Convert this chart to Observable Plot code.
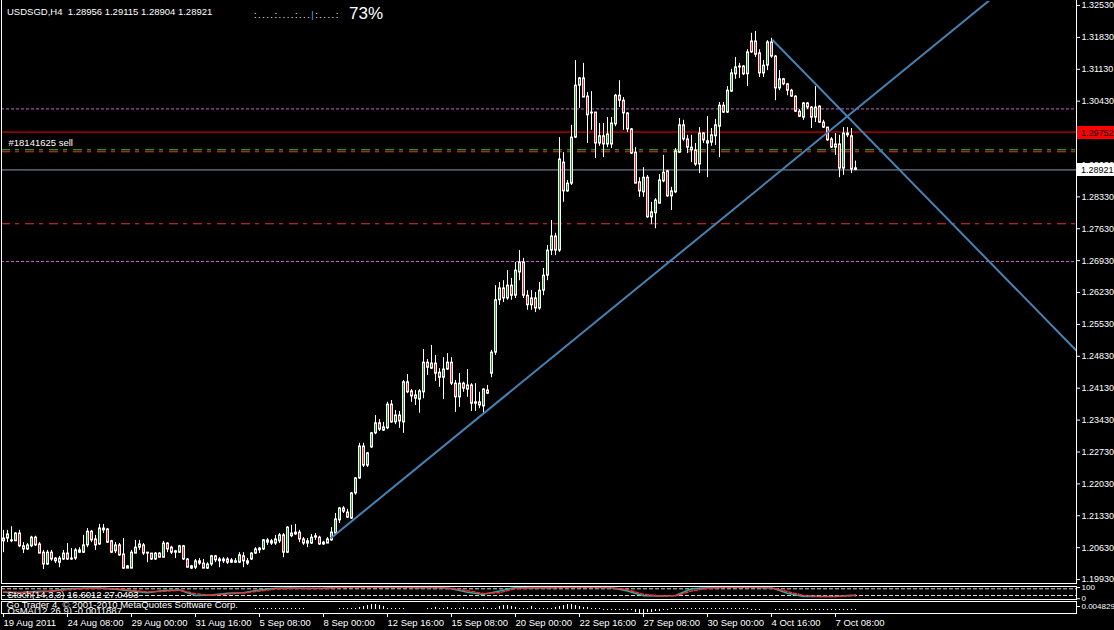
<!DOCTYPE html>
<html><head><meta charset="utf-8">
<script src="https://cdn.jsdelivr.net/npm/d3@7"></script>
<script src="https://cdn.jsdelivr.net/npm/@observablehq/plot@0.6"></script>
<style>
html,body{margin:0;padding:0;background:#000;}
#chart{width:1114px;height:630px;overflow:hidden;background:#000;}
#chart svg{display:block;}
</style></head><body><div id="chart"></div>
<script>
// ---------------- DATA ----------------
const headerText = "USDSGD,H4\u00a0\u00a01.28956 1.29115 1.28904 1.28921";
const sessionDotsLeft = ":....:....:...";
const sessionDotsRight = ":....:";
const progressLabel = "73%";
const orderTicket = "#18141625 sell";
const stochLabel = "Stoch(14,3,3) 16.6012 27.0493";
const copyrightText = "Go Trader 4, \u00a9 2001-2010 MetaQuotes Software Corp.";
const osmaLabel = "OsMA(12,26,9) -0.0011887";

// H4 candles, prices in pips (1e-4)
const openPips = [
12077,12083,12079,12077,12094,12066,12059,12066,12085,12070,
12052,12026,12052,12039,12030,12037,12050,12039,12039,12057,
12052,12068,12098,12081,12070,12105,12103,12077,12055,12068,
12048,12022,12017,12050,12063,12068,12052,12050,12037,12050,
12041,12072,12063,12055,12052,12066,12037,12022,12019,12033,
12028,12017,12026,12044,12033,12037,12037,12030,12030,12030,
12044,12033,12037,12050,12057,12059,12074,12077,12072,12077,
12090,12052,12088,12092,12096,12081,12072,12072,12085,12085,
12074,12072,12079,12094,12123,12149,12140,12127,12182,12215,
12285,12243,12283,12314,12336,12320,12325,12377,12338,12353,
12338,12426,12406,12397,12388,12404,12469,12456,12467,12447,
12436,12454,12469,12423,12393,12423,12419,12419,12382,12382,
12373,12408,12445,12491,12606,12632,12610,12638,12616,12667,
12689,12616,12595,12610,12588,12627,12660,12715,12746,12715,
12908,12845,12862,12963,13077,13093,13053,13018,13018,12950,
12966,12948,12948,12992,13055,13044,13016,12981,12930,12865,
12843,12875,12788,12797,12818,12867,12889,12834,12843,12930,
12990,12959,12941,12935,12904,12972,12955,12952,12966,12987,
13033,13018,13064,13102,13119,13119,13102,13174,13174,13148,
13104,13121,13172,13141,13071,13091,13080,13066,13053,13020,
13007,13038,13029,13007,13031,12996,12985,12959,12941,12948,
12895,12972,12966,12895.6];
const highPips = [
12101,12101,12109,12096,12101,12074,12072,12088,12088,12074,
12057,12057,12057,12041,12044,12057,12072,12061,12061,12063,
12090,12105,12101,12090,12114,12114,12105,12079,12074,12072,
12083,12024,12057,12079,12079,12072,12052,12050,12052,12052,
12077,12074,12066,12057,12068,12068,12039,12024,12037,12039,
12037,12030,12046,12046,12041,12041,12041,12039,12039,12052,
12052,12039,12052,12063,12063,12081,12083,12081,12090,12094,
12094,12109,12112,12114,12101,12085,12083,12092,12094,12088,
12077,12085,12107,12138,12151,12153,12147,12184,12217,12292,
12292,12272,12316,12353,12344,12338,12382,12386,12364,12362,
12430,12443,12410,12408,12410,12498,12476,12507,12485,12456,
12480,12489,12480,12430,12445,12426,12454,12423,12423,12404,
12412,12419,12496,12638,12645,12649,12671,12654,12689,12715,
12698,12627,12627,12623,12645,12676,12726,12781,12753,12963,
12930,12869,12990,13132,13095,13126,13062,13064,13018,12994,
12994,13007,13007,13058,13088,13051,13018,12983,12941,12875,
12897,12880,12821,12829,12882,12924,12891,12854,12939,13005,
13001,12968,12968,12950,12985,12974,13009,12983,13003,13040,
13040,13075,13113,13139,13126,13121,13156,13192,13196,13156,
13132,13176,13181,13143,13110,13093,13082,13069,13055,13025,
13040,13040,13031,13075,13033,13001,12985,12963,12972,12968,
12985,12985,12983,12911.5];
const lowPips = [
12052,12074,12074,12077,12063,12050,12057,12063,12066,12050,
12015,12024,12033,12028,12019,12035,12035,12035,12035,12050,
12050,12063,12074,12057,12068,12094,12072,12050,12050,12044,
12015,12017,12017,12050,12057,12046,12030,12035,12035,12041,
12041,12052,12048,12039,12050,12035,12019,12015,12015,12024,
12017,12015,12022,12030,12019,12028,12026,12028,12028,12028,
12019,12024,12035,12048,12050,12057,12068,12068,12068,12072,
12041,12050,12085,12090,12074,12068,12063,12070,12079,12068,
12068,12072,12077,12092,12116,12138,12127,12125,12178,12213,
12239,12239,12281,12311,12318,12318,12322,12336,12333,12325,
12314,12401,12382,12375,12358,12390,12441,12454,12428,12415,
12388,12452,12419,12360,12371,12404,12393,12362,12362,12368,
12358,12399,12436,12485,12595,12601,12606,12606,12610,12649,
12610,12584,12584,12579,12584,12616,12649,12704,12704,12711,
12821,12843,12858,12961,13027,13051,12950,12979,12917,12944,
12919,12941,12939,12987,13029,12979,12974,12926,12862,12832,
12832,12786,12772,12763,12818,12864,12832,12803,12840,12928,
12955,12928,12908,12900,12884,12950,12875,12944,12946,12919,
13016,13016,13062,13091,13093,13099,13075,13148,13139,13095,
13095,13110,13137,13044,13066,13077,13055,13051,13018,13007,
13001,13025,12983,12996,12994,12983,12955,12939,12924,12875,
12880,12963,12884,12890.4];
const closePips = [
12083,12092,12077,12094,12066,12059,12068,12085,12068,12050,
12026,12052,12037,12033,12039,12050,12037,12037,12057,12052,
12068,12098,12079,12068,12105,12101,12074,12052,12068,12046,
12017,12017,12052,12063,12070,12050,12050,12037,12050,12041,
12072,12059,12052,12052,12066,12037,12019,12017,12033,12028,
12017,12026,12044,12035,12037,12033,12030,12035,12033,12046,
12033,12028,12050,12059,12061,12079,12079,12072,12081,12090,
12052,12107,12094,12096,12081,12072,12077,12085,12088,12070,
12070,12081,12096,12125,12149,12142,12129,12182,12215,12285,
12243,12270,12314,12336,12322,12327,12377,12338,12353,12340,
12426,12404,12395,12390,12406,12469,12458,12467,12445,12436,
12454,12469,12423,12393,12423,12412,12410,12379,12379,12375,
12410,12401,12491,12606,12632,12610,12638,12616,12671,12689,
12616,12595,12610,12588,12627,12660,12715,12746,12715,12915,
12845,12862,12963,13077,13093,13051,13012,13016,12950,12966,
12948,12970,12994,13055,13044,13016,12981,12928,12862,12845,
12875,12788,12799,12825,12869,12886,12834,12845,12933,12990,
12959,12941,12935,12904,12972,12957,12950,12968,12990,13033,
13018,13066,13104,13117,13117,13102,13150,13150,13145,13104,
13121,13172,13141,13071,13091,13080,13066,13053,13020,13009,
13038,13029,13007,13029,12996,12985,12957,12941,12948,12895,
12972,12968,12893,12892.1];

// time axis (bar index of each label)
const timeTickIdx = [0,16,32,48,64,80,96,112,128,144,160,176,192,208];
const timeLabels = ["19 Aug 2011","24 Aug 08:00","29 Aug 00:00","31 Aug 16:00","5 Sep 08:00","8 Sep 00:00","12 Sep 16:00","15 Sep 08:00","20 Sep 00:00","22 Sep 16:00","27 Sep 08:00","30 Sep 00:00","4 Oct 16:00","7 Oct 08:00"];
// price axis (1.2973 lies hidden under the red tag)
const priceTicks = [1.1993,1.2063,1.2133,1.2203,1.2273,1.2343,1.2413,1.2483,1.2553,1.2623,1.2693,1.2763,1.2833,1.2903,1.3043,1.3113,1.3183,1.3253];
// horizontal levels
const levelPrices = [1.3026, 1.29752, 1.29363, 1.29319, 1.28921, 1.27739, 1.2691];
const tagPrices = [1.29752, 1.28921];
// trend lines (bar index, price)
const trendStartIdx = [81.75, 192.2];
const trendStartPrice = [1.20831, 1.31778];
const trendEndIdx = [250, 268.25];
const trendEndPrice = [1.32896, 1.24951];
// stochastic
const stochIdx = [0,4,8,12,16,20,24,28,32,36,40,44,48,52,56,60,64,68,72,76,80,84,88,92,96,100,104,108,112,116,120,124,128,132,136,140,144,148,152,156,160,164,168,172,176,180,184,188,192,196,200,204,208,212,213];
const stochMain = [50,45,55,60,80,85,88,75,60,45,65,70,20,25,40,45,70,85,88,82,85,95,96,95,92,95,90,93,80,50,30,60,92,88,90,93,95,92,90,60,18,15,20,80,90,93,95,92,88,40,12,10,12,22,16.6];
const stochSignal = [52,48,50,57,72,82,86,80,66,52,57,68,35,22,33,43,60,78,86,84,84,92,95,95,93,94,91,92,85,62,38,45,82,89,89,92,94,93,90,72,30,16,17,60,85,91,94,93,90,55,20,11,11,18,27.05];
const stochLevels = [80, 20];
const stochAxisTicks = [100, 0];
// OsMA histogram (1e-4 units) from bar osmaStart
const osmaStart = 63;
const osmaValues = [
1,1,1,1,1,1,1,1,1,1,1,1,1,
0,0,0,0,0,0,0,0,
1,1,1,1,1,
2,3,4,5,5,4,3,
1,1,1,1,1,
0,0,0,0,0,
1,1,2,1,1,2,1,1,1,2,1,1,1,1,2,1,1,1,
3,4,4,3,2,
1,1,1,3,1,1,1,1,1,2,
3,4,5,5,4,3,2,2,
1,1,1,
-1,-1,-1,-1,-1,-1,-1,-1,
-3,-4,-4,-3,-3,-2,-2,
-1,-1,1,1,1,1,1,1,1,1,1,1,1,1,1,1,1,1,1,1,1,1,-1,-1,-1,
0,0,0,
-1,-1,-1,-1,-1,-1,-1,-1,-1,-1,-1,-1,-1,-1,-1,-1,-1,-1,-1,-1,-1];
const osmaAxisTicks = [3];
const osmaAxisLabels = ["0.004829"];

// ---------------- STYLE ----------------
const W = 1114, ML = 1, MR = 38;
const X_DOMAIN = [-0.5, 268.25];
const baseStyle = "background:#000;color:#fff;font-family:'Liberation Sans',Arial,sans-serif;font-size:9.5px;";
const paneStyle = "background:transparent;overflow:visible;color:#fff;font-family:'Liberation Sans',Arial,sans-serif;font-size:9.5px;";
const axisFont = 9;
const upFill = "#22a022", downFill = "#ff1e1e";
const levelStyles = [
  {stroke: "#c864c8", dash: "3,2"},
  {stroke: "#ff0000", dash: null},
  {stroke: "#32cd32", dash: "9,5,4,6"},
  {stroke: "#ff2a2a", dash: "9,5,4,6"},
  {stroke: "#8a9bb0", dash: null},
  {stroke: "#ff2a2a", dash: "9,5,4,6"},
  {stroke: "#c864c8", dash: "3,2"}
];
const tagFills = ["#ff0000", "#ffffff"];
const trendColor = "#4682b4";

// ---------------- BUILD ----------------
const fmt5 = d3.format(".5f");
const candles = openPips.map((o, i) => {
  const open = o / 1e4, close = closePips[i] / 1e4;
  const high = Math.max(highPips[i] / 1e4, open, close);
  const low = Math.min(lowPips[i] / 1e4, open, close);
  return {i, open, close, high, low, top: Math.max(open, close), bot: Math.min(open, close), up: close >= open};
});
const filled = candles.filter(d => d.top - d.bot > 0.0005);
const trendLines = trendStartIdx.map((s, k) => ({i1: s, p1: trendStartPrice[k], i2: trendEndIdx[k], p2: trendEndPrice[k]}));
const stochRows = stochIdx.map((i, k) => ({i, main: stochMain[k], signal: stochSignal[k]}));
const osmaRows = osmaValues.map((v, k) => ({i: osmaStart + k, v})).filter(d => d.v !== 0);

function paneBorder(sides) {
  return (index, scales, values, dim) => {
    const l = dim.marginLeft + 0.5, r = dim.width - dim.marginRight + 0.5;
    const t = dim.marginTop + 0.5, b = dim.height - dim.marginBottom + 0.5;
    const top0 = sides.includes("top") ? t - 0.5 : 0;
    const seg = {left: [l, top0, l, b + 0.5], right: [r, top0, r, b + 0.5], top: [l, t, r, t], bottom: [l, b, r, b]};
    const g = d3.create("svg:g").attr("stroke", "#fff").attr("stroke-width", 1);
    for (const s of sides) {
      const [x1, y1, x2, y2] = seg[s];
      g.append("line").attr("x1", x1).attr("y1", y1).attr("x2", x2).attr("y2", y2);
    }
    return g.node();
  };
}

const tagMark = (index, scales, values, dim) => {
  const g = d3.create("svg:g").attr("text-anchor", "start").attr("font-size", axisFont);
  const x0 = dim.width - dim.marginRight + 1;
  tagPrices.forEach((p, k) => {
    const y = Math.round(scales.y(p));
    g.append("rect").attr("x", x0).attr("y", y - 6).attr("width", dim.marginRight).attr("height", 13).attr("fill", tagFills[k]);
    g.append("text").attr("x", x0 + 4).attr("y", y + 4).attr("fill", "#000").text(fmt5(p));
  });
  return g.node();
};

const headerMark = (index, scales, values, dim) => {
  const g = d3.create("svg:g").attr("fill", "#fff").attr("text-anchor", "start");
  g.append("text").attr("x", 7).attr("y", 14.5).text(headerText);
  const t = g.append("text").attr("x", 254).attr("y", 17.5).attr("letter-spacing", "1.45px");
  t.append("tspan").text(sessionDotsLeft);
  t.append("tspan").attr("fill", "#6aa9ff").text("|");
  t.append("tspan").text(sessionDotsRight);
  g.append("text").attr("x", 349).attr("y", 18.5).attr("font-size", "17px").text(progressLabel);
  return g.node();
};

const mainPlot = Plot.plot({
  width: W, height: 585, marginLeft: ML, marginRight: MR, marginTop: 1, marginBottom: 2,
  style: baseStyle,
  x: {domain: X_DOMAIN, axis: null},
  y: {domain: [1.198434, 1.326178], label: null},
  marks: [
    ...levelPrices.map((p, k) => Plot.ruleY([p], {stroke: levelStyles[k].stroke, strokeDasharray: levelStyles[k].dash || undefined})),
    Plot.ruleX(candles, {x: "i", y1: "high", y2: "low", stroke: "#fff"}),
    Plot.ruleX(candles, {x: "i", y1: "top", y2: "bot", stroke: "#fff", strokeWidth: 3, insetTop: -0.5, insetBottom: -0.5}),
    Plot.ruleX(filled.filter(d => d.up), {x: "i", y1: "top", y2: "bot", stroke: upFill, insetTop: 1, insetBottom: 1}),
    Plot.ruleX(filled.filter(d => !d.up), {x: "i", y1: "top", y2: "bot", stroke: downFill, insetTop: 1, insetBottom: 1}),
    Plot.link(trendLines, {x1: "i1", y1: "p1", x2: "i2", y2: "p2", stroke: trendColor, strokeWidth: 2, clip: true}),
    Plot.text([orderTicket], {y: () => levelPrices[2], frameAnchor: "left", text: d => d, dx: 7, dy: -6.5, textAnchor: "start", lineAnchor: "middle", fill: "#fff"}),
    Plot.axisY({anchor: "right", ticks: priceTicks, tickFormat: fmt5, tickSize: 3, tickPadding: 2, fontSize: axisFont, label: null}),
    tagMark,
    paneBorder(["left", "right", "bottom"]),
    headerMark
  ]
});

const stochPlot = Plot.plot({
  width: W, height: 15, marginLeft: ML, marginRight: MR, marginTop: 1, marginBottom: 1,
  style: paneStyle,
  x: {domain: X_DOMAIN, axis: null},
  y: {domain: [-15.8, 100.6], label: null},
  marks: [
    Plot.ruleY(stochLevels, {stroke: "#d8d8d8", strokeDasharray: "4,2"}),
    Plot.line(stochRows, {x: "i", y: "main", stroke: "#20b2aa"}),
    Plot.line(stochRows, {x: "i", y: "signal", stroke: "#ff2a2a", strokeDasharray: "3,2"}),
    Plot.text([stochLabel], {frameAnchor: "top-left", text: d => d, dx: 6, dy: 8, textAnchor: "start", lineAnchor: "middle", fill: "#fff"}),
    Plot.axisY({anchor: "right", ticks: stochAxisTicks, tickSize: 3, tickPadding: 2, fontSize: 8, dy: 1, label: null}),
    paneBorder(["left", "right", "top", "bottom"])
  ]
});

const osmaPlot = Plot.plot({
  width: W, height: 30, marginLeft: ML, marginRight: MR, marginTop: 1, marginBottom: 17,
  style: paneStyle,
  x: {domain: X_DOMAIN, label: null},
  y: {domain: [-4, 8], label: null},
  marks: [
    Plot.ruleX(osmaRows, {x: "i", y1: d => Math.max(d.v, 0), y2: d => Math.min(d.v, 0), stroke: "#fff"}),
    Plot.text([copyrightText], {frameAnchor: "top-left", text: d => d, dx: 5, dy: 3.7, textAnchor: "start", lineAnchor: "middle", fill: "#fff"}),
    Plot.text([osmaLabel], {frameAnchor: "top-left", text: d => d, dx: 6, dy: 9.3, textAnchor: "start", lineAnchor: "middle", fill: "#fff", clip: true}),
    Plot.axisY({anchor: "right", ticks: osmaAxisTicks, tickFormat: d => osmaAxisLabels[osmaAxisTicks.indexOf(d)], tickSize: 3, tickPadding: 2, fontSize: 8, label: null}),
    Plot.axisX({ticks: timeTickIdx, tickFormat: d => timeLabels[timeTickIdx.indexOf(d)], tickSize: 4, tickPadding: 2, textAnchor: "start", label: null}),
    paneBorder(["left", "right", "top", "bottom"])
  ]
});

const chart = document.getElementById("chart");
chart.append(mainPlot, stochPlot, osmaPlot);
</script>
</body></html>
